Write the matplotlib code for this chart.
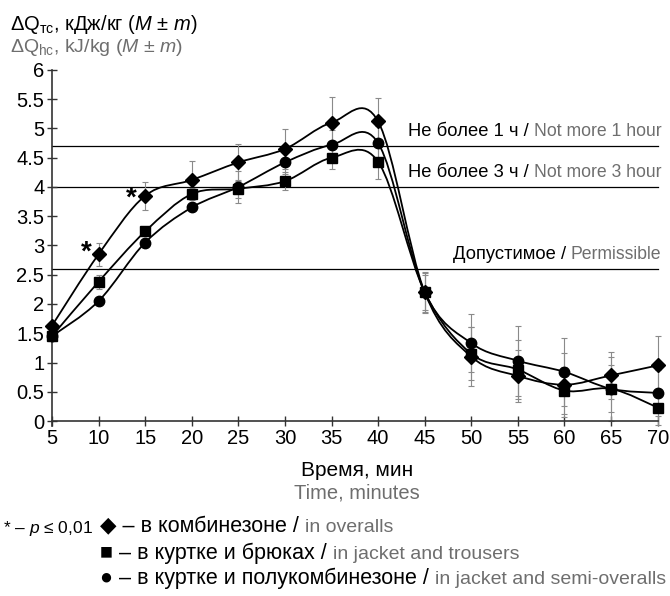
import numpy as np
import matplotlib
matplotlib.use('Agg')
import matplotlib.pyplot as plt
from matplotlib.path import Path
from matplotlib.patches import PathPatch
from matplotlib.offsetbox import TextArea, HPacker, AnnotationBbox
from matplotlib.ticker import FuncFormatter

plt.rcParams['font.family'] = ['Liberation Sans', 'DejaVu Sans']
plt.rcParams['mathtext.fontset'] = 'custom'
plt.rcParams['mathtext.rm'] = 'Liberation Sans'
plt.rcParams['mathtext.it'] = 'Liberation Sans:italic'

# данные
minutes = [5, 10, 15, 20, 25, 30, 35, 40, 45, 50, 55, 60, 65, 70]
overalls = [1.63, 2.85, 3.85, 4.12, 4.42, 4.65, 5.10, 5.12, 2.20, 1.10, 0.77, 0.62, 0.78, 0.95]
overalls_err = [0.05, 0.20, 0.24, 0.32, 0.31, 0.34, 0.44, 0.40, 0.33, 0.50, 0.45, 0.55, 0.40, 0.50]
jacket = [1.45, 2.38, 3.24, 3.88, 3.97, 4.10, 4.50, 4.43, 2.20, 1.15, 0.88, 0.52, 0.55, 0.23]
jacket_err = [0.05, 0.12, 0.08, 0.10, 0.15, 0.15, 0.20, 0.30, 0.30, 0.45, 0.50, 0.40, 0.40, 0.30]
semi = [1.45, 2.05, 3.05, 3.65, 4.00, 4.42, 4.72, 4.75, 2.20, 1.33, 1.03, 0.84, 0.55, 0.48]
semi_err = [0.08, 0.05, 0.05, 0.05, 0.27, 0.20, 0.25, 0.30, 0.35, 0.50, 0.60, 0.58, 0.55, 0.40]

limits = [4.7, 4.0, 2.6]
limit_ru = ['Не более 1 ч / ', 'Не более 3 ч / ', 'Допустимое / ']
limit_en = ['Not more 1 hour', 'Not more 3 hour', 'Permissible']

gray = '#6e6e6e'


def smooth_path(x, y):
    # сглаженная линия как в Excel (кубические Безье)
    pts = np.column_stack([x, y]).astype(float)
    n = len(pts)
    verts = [pts[0]]
    codes = [Path.MOVETO]
    for i in range(n - 1):
        p0 = pts[i - 1] if i > 0 else pts[i]
        p3 = pts[i + 2] if i + 2 < n else pts[i + 1]
        c1 = pts[i] + (pts[i + 1] - p0) / 6
        c2 = pts[i + 1] - (p3 - pts[i]) / 6
        verts += [c1, c2, pts[i + 1]]
        codes += [Path.CURVE4] * 3
    return Path(verts, codes)


def rich(ax, parts, xy, align, coords='figure fraction'):
    boxes = [TextArea(s, textprops=dict(color=c, fontsize=fs)) for s, c, fs in parts]
    pack = HPacker(children=boxes, align='baseline', pad=0, sep=0)
    ab = AnnotationBbox(pack, xy, xycoords=coords, box_alignment=align,
                        frameon=False, pad=0, annotation_clip=False)
    ax.add_artist(ab)


fig = plt.figure(figsize=(6.7, 5.96), dpi=100)
ax = fig.add_axes([0.0776, 0.2936, 0.904, 0.589])

for i, lv in enumerate(limits):
    ax.plot([5, 70], [lv, lv], color='black', lw=0.9, zorder=1, clip_on=False)
    rich(ax, [(limit_ru[i], 'black', 13.2), (limit_en[i], gray, 12.7)],
         (70.4, lv + 0.1), (1, 0), coords='data')

for vals, err, mk, ms in [(overalls, overalls_err, 'D', 7),
                          (jacket, jacket_err, 's', 6.5),
                          (semi, semi_err, 'o', 7.5)]:
    ax.errorbar(minutes, vals, yerr=err, fmt='none', ecolor='#8a8a8a',
                elinewidth=0.8, capsize=2.5, capthick=0.8, zorder=2, clip_on=False)
    ax.add_patch(PathPatch(smooth_path(minutes, vals), fill=False, lw=1.3,
                           edgecolor='black', zorder=3))
    ax.plot(minutes, vals, ls='none', marker=mk, ms=ms, color='black', zorder=4,
            clip_on=False)

ax.text(8.7, 2.88, '*', fontsize=20, fontweight='bold', ha='center', va='center')
ax.text(13.5, 3.8, '*', fontsize=20, fontweight='bold', ha='center', va='center')

ax.set_xlim(5, 70)
ax.set_ylim(0, 6)
ax.set_xticks(minutes)
ax.set_yticks(np.arange(0, 6.01, 0.5))
ax.yaxis.set_major_formatter(FuncFormatter(lambda v, p: f'{v:g}'))
ax.tick_params(direction='inout', length=7, width=1, labelsize=14.5, colors='#333333',
               pad=2)
ax.tick_params(axis='both', labelcolor='black')
for s in ['top', 'right']:
    ax.spines[s].set_visible(False)
for s in ['left', 'bottom']:
    ax.spines[s].set_color('#333333')
    ax.spines[s].set_linewidth(1.2)
ax.spines['left'].set_bounds(-0.08, 6)

fig.text(10 / 670, 1 - 25 / 596, 'ΔQ$_{\\mathrm{тс}}$, кДж/кг ($M$ ± $m$)',
         fontsize=14.5, va='center', ha='left')
fig.text(10 / 670, 1 - 47 / 596, 'ΔQ$_{\\mathrm{hc}}$, kJ/kg ($M$ ± $m$)',
         fontsize=14, va='center', ha='left', color=gray)
fig.text(357 / 670, 1 - 470 / 596, 'Время, мин', fontsize=15, ha='center', va='center')
fig.text(357 / 670, 1 - 493 / 596, 'Time, minutes', fontsize=14.5, ha='center',
         va='center', color=gray)

fig.text(3 / 670, 1 - 528 / 596, '* – $p$ ≤ 0,01', fontsize=12.5, va='center', ha='left')
rich(ax, [('◆ – в комбинезоне / ', 'black', 15.5), ('in overalls', gray, 14)],
     (100 / 670, 1 - 527 / 596), (0, 0.5))
rich(ax, [('■ – в куртке и брюках / ', 'black', 15.5), ('in jacket and trousers', gray, 14)],
     (100 / 670, 1 - 553 / 596), (0, 0.5))
rich(ax, [('● – в куртке и полукомбинезоне / ', 'black', 15.5),
          ('in jacket and semi-overalls', gray, 14)],
     (100 / 670, 1 - 578 / 596), (0, 0.5))

fig.savefig('out.png', dpi=100)
